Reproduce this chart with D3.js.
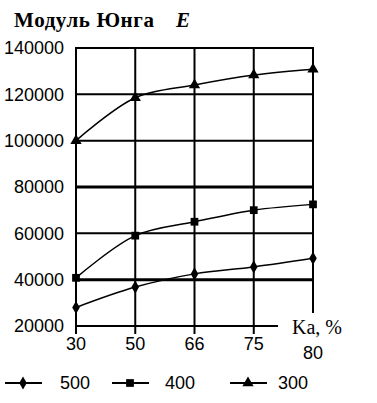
<!DOCTYPE html>
<html>
<head>
<meta charset="utf-8">
<script src="https://cdn.jsdelivr.net/npm/d3@7"></script>
<style>
body { margin: 0; background: #fff; }
</style>
</head>
<body>
<div id="chart"></div>
<script>
// data
var categories = ["30", "50", "66", "75", "80"];
var yTicks = [20000, 40000, 60000, 80000, 100000, 120000, 140000];
var seriesNames = ["500", "400", "300"];
var s500 = [28000, 36800, 42500, 45500, 49200];
var s400 = [40800, 59000, 65000, 70000, 72500];
var s300 = [100000, 118500, 124000, 128300, 130800];

var width = 377, height = 403,
    plotLeft = 76, plotRight = 313, plotTop = 48, plotBottom = 326;

var svg = d3.select("#chart").append("svg")
    .attr("width", width)
    .attr("height", height);

var x = d3.scalePoint().domain(categories).range([plotLeft, plotRight]);
var y = d3.scaleLinear().domain([20000, 140000]).range([plotBottom, plotTop]);

// horizontal grid lines
svg.selectAll("line.hgrid")
    .data(yTicks.slice(1))
    .enter().append("line")
    .attr("class", "hgrid")
    .attr("x1", plotLeft).attr("x2", plotRight)
    .attr("y1", function(d) { return y(d); })
    .attr("y2", function(d) { return y(d); })
    .attr("stroke", "#000")
    .attr("stroke-width", function(d) { return (d === 80000 || d === 40000) ? 3 : 2; });

// bottom axis line (stops short of the last column)
svg.append("line")
    .attr("x1", plotLeft).attr("x2", 278)
    .attr("y1", plotBottom).attr("y2", plotBottom)
    .attr("stroke", "#000").attr("stroke-width", 2);

// vertical grid lines + ticks
svg.selectAll("line.vgrid")
    .data(categories)
    .enter().append("line")
    .attr("class", "vgrid")
    .attr("x1", function(d) { return x(d); })
    .attr("x2", function(d) { return x(d); })
    .attr("y1", plotTop - 1)
    .attr("y2", function(d) { return d === "80" ? 313 : 334; })
    .attr("stroke", "#000").attr("stroke-width", 2);

// y tick labels
svg.selectAll("text.ylab")
    .data(yTicks)
    .enter().append("text")
    .attr("class", "ylab")
    .attr("x", 64)
    .attr("y", function(d) { return y(d); })
    .attr("dy", "0.35em")
    .attr("text-anchor", "end")
    .style("font", "18px 'Liberation Sans', Arial, sans-serif")
    .text(function(d) { return d; });

// x tick labels
svg.selectAll("text.xlab")
    .data(categories)
    .enter().append("text")
    .attr("class", "xlab")
    .attr("x", function(d) { return x(d); })
    .attr("y", function(d) { return d === "80" ? 359 : 350; })
    .attr("text-anchor", "middle")
    .style("font", "18px 'Liberation Sans', Arial, sans-serif")
    .text(function(d) { return d; });

// title
var title = svg.append("text")
    .attr("x", 14).attr("y", 27)
    .style("font", "bold 21px 'Liberation Serif', 'Times New Roman', serif")
    .style("letter-spacing", "0.6px");
title.append("tspan").text("Модуль Юнга");
title.append("tspan").attr("x", 176).style("font-style", "italic").text("E");

// axis title
svg.append("text")
    .attr("x", 292).attr("y", 334)
    .style("font", "20px 'Liberation Serif', 'Times New Roman', serif")
    .text("Ka, %");

var line = d3.line()
    .x(function(d, i) { return x(categories[i]); })
    .y(function(d) { return y(d); })
    .curve(d3.curveCatmullRom.alpha(0.5));

var symbols = [d3.symbolDiamond, d3.symbolSquare, d3.symbolTriangle];
var sizes = [50, 60, 55];
var allSeries = [s500, s400, s300];

allSeries.forEach(function(vals, k) {
    svg.append("path")
        .datum(vals)
        .attr("d", line)
        .attr("fill", "none")
        .attr("stroke", "#000")
        .attr("stroke-width", 1.5);

    svg.selectAll("path.m" + k)
        .data(vals)
        .enter().append("path")
        .attr("class", "m" + k)
        .attr("transform", function(d, i) {
            return "translate(" + x(categories[i]) + "," + y(d) + ")";
        })
        .attr("d", d3.symbol().type(symbols[k]).size(sizes[k]))
        .attr("fill", "#000");
});

// legend
var legendX = [5, 112, 230];
var legendTextX = [60, 165, 278];
var ly = 383;
seriesNames.forEach(function(name, k) {
    svg.append("line")
        .attr("x1", legendX[k]).attr("x2", legendX[k] + 37)
        .attr("y1", ly).attr("y2", ly)
        .attr("stroke", "#000").attr("stroke-width", 2);
    svg.append("path")
        .attr("transform", "translate(" + (legendX[k] + 18) + "," + ly + ")")
        .attr("d", d3.symbol().type(symbols[k]).size(sizes[k]))
        .attr("fill", "#000");
    svg.append("text")
        .attr("x", legendTextX[k]).attr("y", ly)
        .attr("dy", "0.35em")
        .style("font", "18px 'Liberation Sans', Arial, sans-serif")
        .text(name);
});
</script>
</body>
</html>
